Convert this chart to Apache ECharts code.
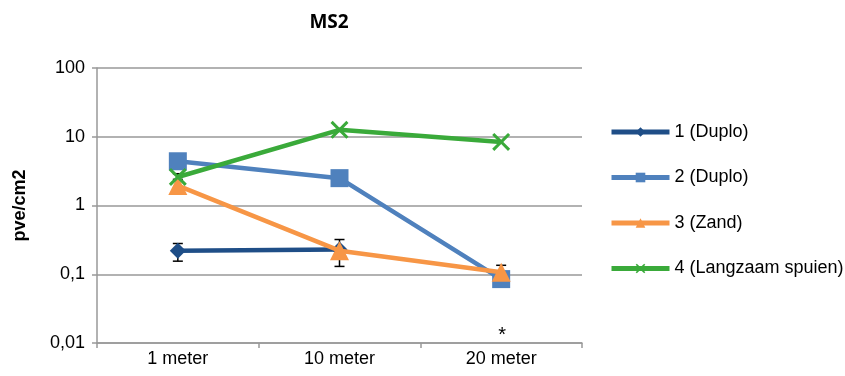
<!DOCTYPE html>
<html><head><meta charset="utf-8">
<script src="https://cdn.jsdelivr.net/npm/echarts@6/dist/echarts.min.js"></script>
<style>html,body{margin:0;padding:0;background:#fff}#c{width:845px;height:376px}</style>
</head><body><div id="c"></div>
<script>
const categories = ['1 meter', '10 meter', '20 meter'];
const seriesNames = ['1 (Duplo)', '2 (Duplo)', '3 (Zand)', '4 (Langzaam spuien)'];
const s1 = [0.22, 0.23, null];
const s2 = [4.4, 2.5, 0.085];
const s3 = [1.95, 0.22, 0.107];
const s4 = [2.6, 12.6, 8.4];
// error bars: [categoryIndex, low, high]
const errBars = [[0, 0.155, 0.28], [1, 0.13, 0.32], [2, 0.085, 0.135], [0, 2.4, 2.9]];
const note = [[2, 0.0127, '*']];

const colors = ['#1f4e87', '#4f81bd', '#f79646', '#3aaa3a'];
const xPath = 'path://M0,1.2 L1.2,0 L5,3.8 L8.8,0 L10,1.2 L6.2,5 L10,8.8 L8.8,10 L5,6.2 L1.2,10 L0,8.8 L3.8,5 Z';

const chart = echarts.init(document.getElementById('c'));
const fmt = v => String(Number(Number(v).toPrecision(6))).replace('.', ',');
const mkLine = (name, data, color, symbol, size, z) => ({
  name, type: 'line', data, symbol, symbolSize: size, z,
  lineStyle: { color, width: 4.5 },
  itemStyle: { color },
  emphasis: { disabled: true },
  animation: false
});
chart.setOption({
  animation: false,
  title: {
    text: 'MS2', left: 324, top: 8, textAlign: 'center',
    textStyle: { fontFamily: 'Open Sans', fontWeight: 'bold', fontSize: 19, color: '#000' }
  },
  legend: {
    data: seriesNames, orient: 'vertical', left: 604, top: 118,
    itemWidth: 58, itemHeight: 12, itemGap: 27.5,
    lineStyle: { width: 5 },
    textStyle: { fontFamily: 'Liberation Sans', fontSize: 18, color: '#000' }
  },
  grid: { left: 97, right: 263, top: 68, bottom: 33, containLabel: false },
  xAxis: {
    type: 'category', data: categories, boundaryGap: true,
    axisLine: { lineStyle: { color: '#999', width: 1.5 } },
    axisTick: { show: true, length: 5, lineStyle: { color: '#999', width: 1.5 } },
    axisLabel: { fontFamily: 'Liberation Sans', fontSize: 18, color: '#000', margin: 7 }
  },
  yAxis: {
    type: 'log', logBase: 10, min: 0.01, max: 100,
    name: 'pve/cm2', nameLocation: 'middle', nameRotate: 90, nameGap: 68,
    nameTextStyle: { fontFamily: 'Liberation Sans', fontWeight: 'bold', fontSize: 18, color: '#000' },
    axisLine: { show: true, lineStyle: { color: '#999', width: 1.5 } },
    axisTick: { show: true, length: 5, lineStyle: { color: '#999', width: 1.5 } },
    splitLine: { lineStyle: { color: '#999', width: 1.5 } },
    axisLabel: { fontFamily: 'Liberation Sans', fontSize: 18, color: '#000', margin: 12, formatter: fmt }
  },
  series: [
    {
      type: 'custom', name: 'err', z: 1, animation: false, silent: true,
      data: errBars,
      renderItem: (params, api) => {
        const lo = api.coord([api.value(0), api.value(1)]);
        const hi = api.coord([api.value(0), api.value(2)]);
        const w = 5;
        const st = { stroke: '#000', lineWidth: 1.5 };
        return { type: 'group', children: [
          { type: 'line', shape: { x1: lo[0], y1: lo[1], x2: hi[0], y2: hi[1] }, style: st },
          { type: 'line', shape: { x1: lo[0] - w, y1: lo[1], x2: lo[0] + w, y2: lo[1] }, style: st },
          { type: 'line', shape: { x1: hi[0] - w, y1: hi[1], x2: hi[0] + w, y2: hi[1] }, style: st }
        ]};
      }
    },
    mkLine(seriesNames[0], s1, colors[0], 'diamond', 16, 3),
    mkLine(seriesNames[1], s2, colors[1], 'rect', 18, 2),
    mkLine(seriesNames[2], s3, colors[2], 'triangle', 19, 4),
    mkLine(seriesNames[3], s4, colors[3], xPath, 18, 5),
    {
      type: 'custom', name: 'note', z: 6, animation: false, silent: true,
      data: note,
      renderItem: (params, api) => {
        const p = api.coord([api.value(0), api.value(1)]);
        return { type: 'text', style: { text: note[params.dataIndex][2], x: p[0] + 1, y: p[1], align: 'center', verticalAlign: 'middle', font: '20px Liberation Sans', fill: '#000' } };
      }
    }
  ]
});
</script></body></html>
